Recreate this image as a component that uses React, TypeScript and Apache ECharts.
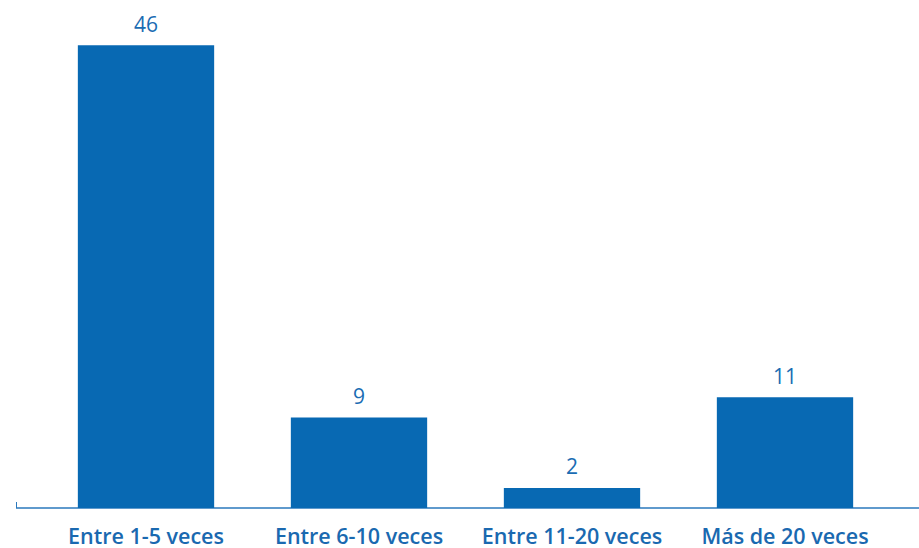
import React, { useEffect, useRef } from "react";
import * as echarts from "echarts";

const categories = ["Entre 1-5 veces", "Entre 6-10 veces", "Entre 11-20 veces", "Más de 20 veces"];
const values = [46, 9, 2, 11];

export default function App() {
  const ref = useRef<HTMLDivElement>(null);
  useEffect(() => {
    if (!ref.current) return;
    const chart = echarts.init(ref.current, null, { renderer: "svg" });
    chart.setOption({
      animation: false,
      grid: { left: 39.5, right: 27.5, top: 5, bottom: 40 },
      xAxis: {
        type: "category",
        data: categories,
        axisLine: { show: false },
        axisTick: { show: false },
        axisLabel: {
          interval: 0,
          color: "#1a69b0",
          fontFamily: "Open Sans",
          fontWeight: 600,
          fontSize: 21.5,
          lineHeight: 22,
          margin: 16,
        },
      },
      yAxis: {
        type: "value",
        min: 0,
        max: 50,
        show: false,
        splitLine: { show: false },
      },
      series: [
        {
          type: "bar",
          data: values,
          barWidth: "64%",
          itemStyle: { color: "#0869b3" },
          label: {
            show: true,
            position: "top",
            distance: 11,
            color: "#1a6cb3",
            fontFamily: "Open Sans",
            fontSize: 21,
          },
        },
      ],
      graphic: [
        {
          type: "line",
          shape: { x1: 16, y1: 508, x2: 919, y2: 508 },
          style: { stroke: "#2a78bd", lineWidth: 1.5 },
        },
        {
          type: "line",
          shape: { x1: 16.5, y1: 502, x2: 16.5, y2: 508 },
          style: { stroke: "#2a78bd", lineWidth: 1 },
        },
      ],
    });
    return () => chart.dispose();
  }, []);
  return <div ref={ref} style={{ width: 919, height: 548, position: "absolute", left: 0, top: 0 }} />;
}
